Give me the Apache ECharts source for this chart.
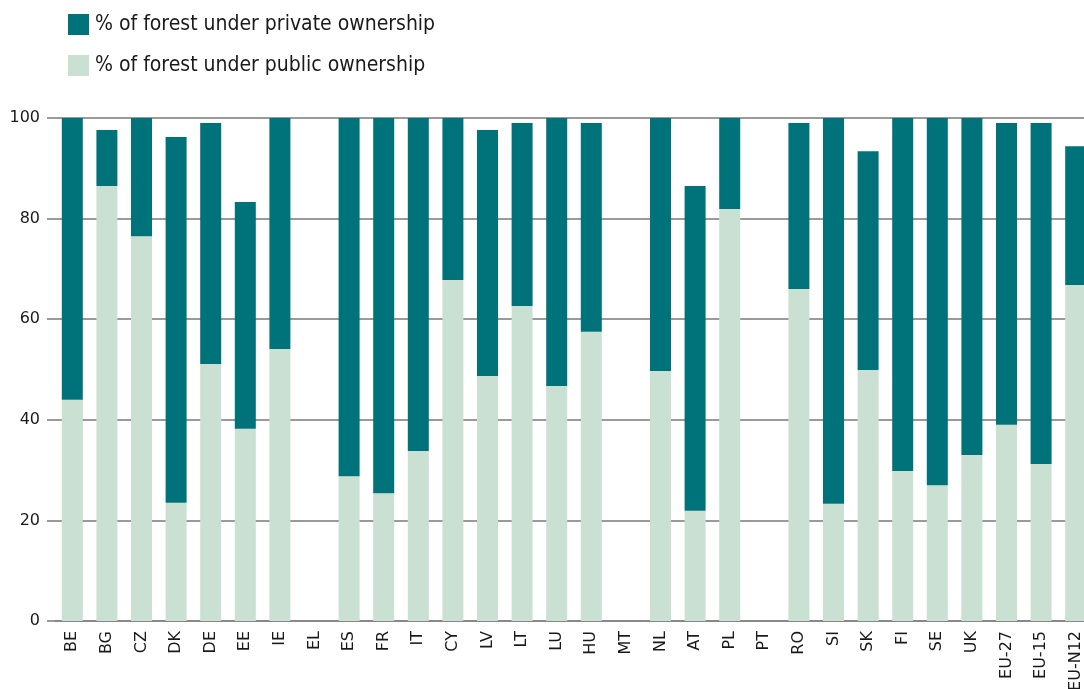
<!DOCTYPE html>
<html>
<head>
<meta charset="utf-8">
<script src="https://cdn.jsdelivr.net/npm/echarts@6/dist/echarts.min.js"></script>
<style>
    html, body { margin: 0; padding: 0; background: #fff; }
    #chart { width: 1084px; height: 689px; }
</style>
</head>
<body>
<div id="chart"></div>
<script>
    // countries / aggregates on the x axis
    var countries = ['BE','BG','CZ','DK','DE','EE','IE','EL','ES','FR','IT','CY','LV','LT','LU','HU','MT','NL','AT','PL','PT','RO','SI','SK','FI','SE','UK','EU-27','EU-15','EU-N12'];
    // % public (bottom of stack)
    var publicShare = [44, 86.5, 76.5, 23.5, 51.1, 38.2, 54.1, null, 28.8, 25.4, 33.8, 67.8, 48.7, 62.6, 46.7, 57.5, null, 49.7, 21.9, 81.9, null, 66, 23.3, 49.9, 29.8, 27, 33, 39, 31.2, 66.8];
    // % private (on top)
    var privateShare = [56, 11.1, 23.5, 72.7, 47.9, 45.1, 45.9, null, 71.2, 74.6, 66.2, 32.2, 48.9, 36.4, 53.3, 41.5, null, 50.3, 64.6, 18.1, null, 33, 76.7, 43.5, 70.2, 73, 67, 60, 67.8, 27.6];
    var yTicks = [0, 20, 40, 60, 80, 100];

    var myChart = echarts.init(document.getElementById('chart'));

    var gridColor = '#9a9a9a';
    var fontFamily = 'DejaVu Sans';

    var option = {
        animation: false,
        textStyle: { fontFamily: fontFamily },
        legend: {
            orient: 'vertical',
            left: 63,
            top: 9,
            itemWidth: 21,
            itemHeight: 21,
            itemGap: 20,
            icon: 'rect',
            data: ['% of forest under private ownership', '% of forest under public ownership'],
            textStyle: { fontSize: 21, color: '#1a1a1a', fontFamily: 'DejaVu Sans Condensed', padding: [0, 0, 0, 1] }
        },
        grid: {
            left: 55,
            top: 118,
            width: 1038,
            bottom: 68,
            containLabel: false,
            outerBoundsMode: 'none'
        },
        xAxis: {
            type: 'category',
            data: countries,
            axisLine: { show: true, lineStyle: { color: '#888', width: 2 } },
            axisTick: { show: false },
            axisLabel: {
                interval: 0,
                rotate: 90,
                margin: 10,
                fontSize: 16,
                color: '#1a1a1a',
                fontFamily: fontFamily
            }
        },
        yAxis: {
            type: 'value',
            min: yTicks[0],
            max: yTicks[yTicks.length - 1],
            interval: 20,
            axisLine: { show: false },
            axisTick: { show: true, length: 8, inside: false, lineStyle: { color: gridColor, width: 2 } },
            splitLine: { show: true, lineStyle: { color: gridColor, width: 2 } },
            axisLabel: { margin: 15, fontSize: 16, color: '#1a1a1a', fontFamily: fontFamily }
        },
        series: [
            {
                name: '% of forest under public ownership',
                type: 'bar',
                stack: 'total',
                barWidth: 21,
                itemStyle: { color: '#c9e0d2' },
                data: publicShare
            },
            {
                name: '% of forest under private ownership',
                type: 'bar',
                stack: 'total',
                barWidth: 21,
                itemStyle: { color: '#00737a' },
                data: privateShare
            }
        ]
    };

    myChart.setOption(option);
</script>
</body>
</html>
